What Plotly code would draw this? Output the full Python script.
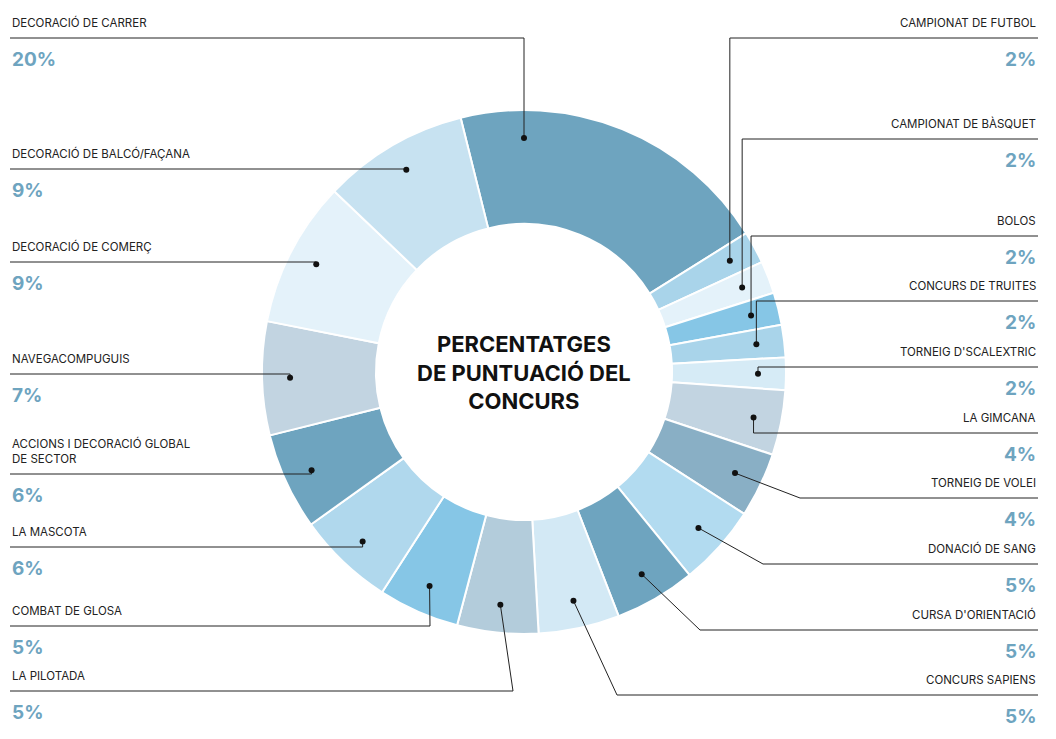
import math
import plotly.graph_objects as go

W, H = 1056, 739
OFF = 8  # page body margin

# data (clockwise from top)
names = ['DECORACIÓ DE CARRER', 'CAMPIONAT DE FUTBOL', 'CAMPIONAT DE BÀSQUET', 'BOLOS',
         'CONCURS DE TRUITES', "TORNEIG D'SCALEXTRIC", 'LA GIMCANA', 'TORNEIG DE VOLEI',
         'DONACIÓ DE SANG', "CURSA D'ORIENTACIÓ", 'CONCURS SAPIENS', 'LA PILOTADA',
         'COMBAT DE GLOSA', 'LA MASCOTA', 'ACCIONS I DECORACIÓ GLOBAL<br>DE SECTOR',
         'NAVEGACOMPUGUIS', 'DECORACIÓ DE COMERÇ', 'DECORACIÓ DE BALCÓ/FAÇANA']
values = [20, 2, 2, 2, 2, 2, 4, 4, 5, 5, 5, 5, 5, 6, 6, 7, 9, 9]
colors = ['#6ea4bf', '#a9d4ea', '#e4f2fa', '#86c6e6', '#a9d4ea', '#d6ebf6', '#c2d4e1',
          '#89afc5', '#b2dbf0', '#6ea4bf', '#d3e9f5', '#b3ccdb', '#86c6e6', '#b0d8ed',
          '#6ea4bf', '#c2d4e1', '#e4f2fa', '#c7e2f1']

# label layout: side, line y, elbow x (None = straight to dot)
side = ['L', 'R', 'R', 'R', 'R', 'R', 'R', 'R', 'R', 'R', 'R', 'L', 'L', 'L', 'L', 'L', 'L', 'L']
line_y = [38, 38, 139, 236, 301, 367, 433, 498, 564, 630, 695, 691, 626, 547, 474, 374, 262, 169]
elbow = [None, None, None, None, None, None, None, 800, 763, 700, 617, 513, 430, None, None, None, None, None]
dot_shift = [-22, 0, 0, 0, 0, 0, 0, 0, 0, 0, 0, 0, 0, 0, 0, 0, 0, 0]

cx, cy, r_out = 524, 372, 262
rotation = -14
r_dot = 234

fig = go.Figure()
fig.add_trace(go.Pie(
    values=values, labels=names, sort=False, direction='clockwise', rotation=rotation,
    hole=0.565, marker=dict(colors=colors, line=dict(color='white', width=2)),
    textinfo='none', showlegend=False, hoverinfo='skip',
    domain=dict(x=[(cx - OFF - r_out) / W, (cx - OFF + r_out) / W],
                y=[(H - (cy - OFF) - r_out) / H, (H - (cy - OFF) + r_out) / H]),
))

shapes, annotations = [], []
cum = 0
for i, v in enumerate(values):
    ang = math.radians(rotation + 3.6 * (cum + v / 2) + dot_shift[i])
    cum += v
    dx = cx + r_dot * math.sin(ang)
    dy = cy - r_dot * math.cos(ang)
    ly = line_y[i]
    ex = elbow[i] if elbow[i] is not None else dx
    sx = 10 if side[i] == 'L' else 1038
    shapes.append(dict(type='path', path=f'M {sx},{ly} L {ex},{ly} L {dx},{dy}',
                       xref='x', yref='y', line=dict(color='#222', width=1)))
    shapes.append(dict(type='circle', x0=dx - 3, x1=dx + 3, y0=dy - 3, y1=dy + 3,
                       xref='x', yref='y', fillcolor='#111', line=dict(width=0)))
    anchor = 'left' if side[i] == 'L' else 'right'
    annotations.append(dict(x=sx, y=ly - 6, text=names[i], showarrow=False, xref='x', yref='y',
                            xanchor=anchor, yanchor='bottom', align=anchor,
                            font=dict(family='Inter', size=11.5, color='#222')))
    annotations.append(dict(x=sx, y=ly + 8, text=f'<b>{v}%</b>', showarrow=False, xref='x', yref='y',
                            xanchor=anchor, yanchor='top',
                            font=dict(family='Inter', size=19, color='#6ea4bf')))

annotations.append(dict(x=cx, y=cy, text='<b>PERCENTATGES<br>DE PUNTUACIÓ DEL<br>CONCURS</b>',
                        showarrow=False, xref='x', yref='y',
                        font=dict(family='Inter', size=22, color='#111')))

fig.update_layout(
    width=W, height=H, margin=dict(l=0, r=0, t=0, b=0),
    paper_bgcolor='white', plot_bgcolor='rgba(0,0,0,0)',
    xaxis=dict(range=[OFF, W + OFF], visible=False, fixedrange=True),
    yaxis=dict(range=[H + OFF, OFF], visible=False, fixedrange=True),
    shapes=shapes, annotations=annotations,
)
fig.write_html('out.html')
